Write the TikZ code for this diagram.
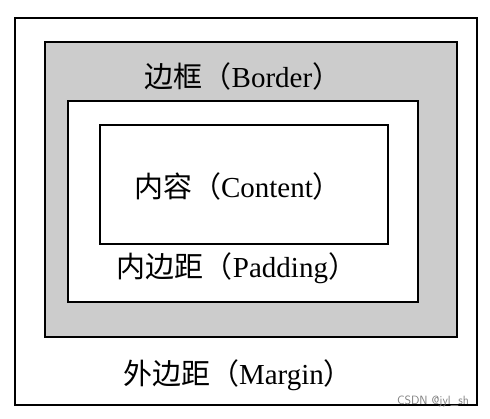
\documentclass[tikz,border=0pt]{standalone}
\usepackage{fontspec}
\setmainfont{Liberation Serif}
\newfontfamily\cjk{Noto Sans CJK SC}
\tikzset{
  box/.style={line width=2.5pt},
  label/.style={font=\fontsize{29}{32}\selectfont, inner sep=0pt}
}
\begin{document}
\begin{tikzpicture}[x=1pt,y=-1pt]
  \useasboundingbox (0,0) rectangle (490,418);
  \draw[box, line width=2pt] (15,18) rectangle (477,405);
  \draw[box, fill=gray!40] (45,42) rectangle (457,337);
  \draw[box, fill=white] (68,101) rectangle (418,302);
  \draw[box] (100,125) rectangle (388,244);
  \node[label] (border) at (243,76) {{\cjk 边框（}Border{\cjk ）}};
  \node[label] (content) at (238,186) {{\cjk 内容（}Content{\cjk ）}};
  \node[label] (padding) at (237,268) {{\cjk 内边距（}Padding{\cjk ）}};
  \node[label] (margin) at (238,375) {{\cjk 外边距（}Margin{\cjk ）}};
  \node[font=\sffamily\fontsize{12}{13}\selectfont, text=gray, inner sep=0pt] (mark) at (433,401) {CSDN @jyl\_sh};
\end{tikzpicture}
\end{document}
